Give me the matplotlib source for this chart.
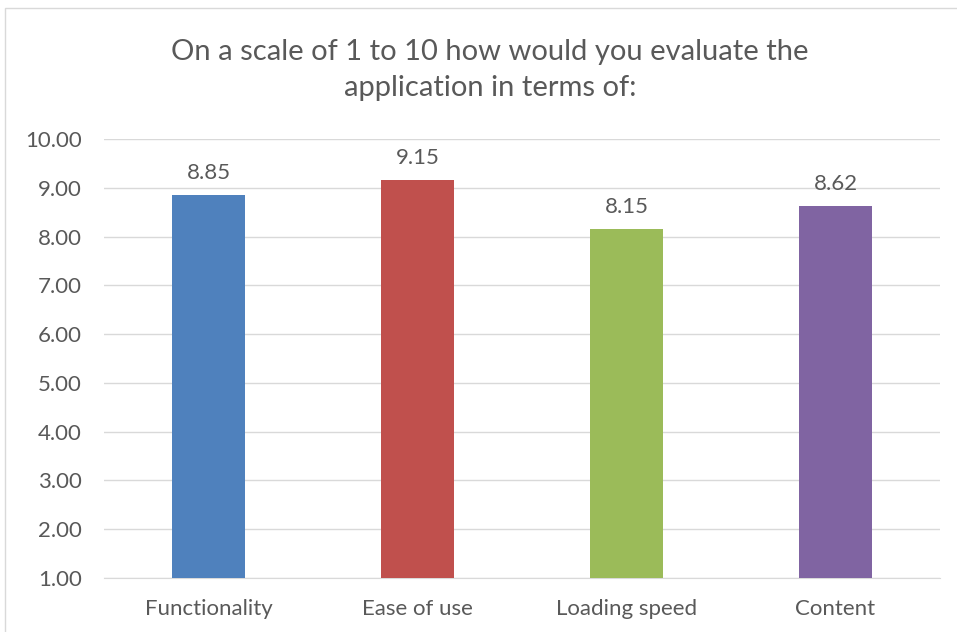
import matplotlib
matplotlib.use("Agg")
from matplotlib import pyplot as plt
from matplotlib.patches import Rectangle

categories = ["Functionality", "Ease of use", "Loading speed", "Content"]
scores = [8.85, 9.15, 8.15, 8.62]
colors = ["#4F81BD", "#C0504D", "#9BBB59", "#8064A2"]
yticks = [1, 2, 3, 4, 5, 6, 7, 8, 9, 10]

plt.rcParams["font.family"] = ["Lato", "DejaVu Sans"]
text_color = "#595959"

fig = plt.figure(figsize=(9.57, 6.32), dpi=100)
# chart frame
fig.patches.append(Rectangle((5 / 957, -0.1), 1.1, 1 - 8 / 632 + 0.1,
                             transform=fig.transFigure, fill=False,
                             edgecolor="#D9D9D9", linewidth=1))

ax = fig.add_axes([104 / 957, 1 - 578 / 632, 836 / 957, 439 / 632])
x = range(len(categories))
bars = ax.bar(x, [s - 1 for s in scores], bottom=1, width=0.354, color=colors, zorder=3)
for xi, s in zip(x, scores):
    ax.text(xi, s + 0.25, f"{s:.2f}", ha="center", va="bottom",
            fontsize=16, color=text_color)

ax.set_xlim(-0.5, 3.5)
ax.set_ylim(1, 10)
ax.set_yticks(yticks)
ax.set_yticklabels([f"{v:.2f}" for v in yticks])
ax.set_xticks(list(x))
ax.set_xticklabels(categories)
ax.tick_params(axis="both", length=0, colors=text_color, labelsize=16)
ax.tick_params(axis="x", pad=15)
ax.tick_params(axis="y", pad=16)
ax.grid(axis="y", color="#D9D9D9", linewidth=1, zorder=0)
for side in ["top", "right", "left"]:
    ax.spines[side].set_visible(False)
ax.spines["bottom"].set_color("#D9D9D9")

fig.text(490 / 957, 1 - 70 / 632,
         "On a scale of 1 to 10 how would you evaluate the\napplication in terms of:",
         ha="center", va="center", fontsize=21, color=text_color, linespacing=1.45)

fig.savefig("out.png", dpi=100)
